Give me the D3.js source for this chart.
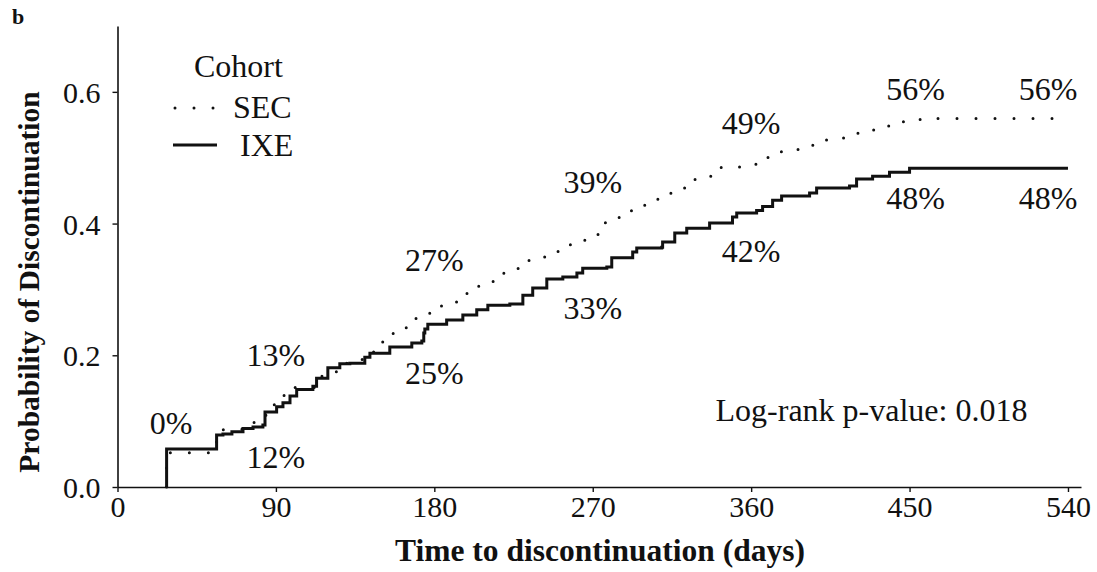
<!DOCTYPE html>
<html><head><meta charset="utf-8">
<script src="https://cdn.jsdelivr.net/npm/d3@7"></script>
<style>
html,body{margin:0;padding:0;background:#fff;}
text{font-family:"Liberation Serif","Times New Roman",serif;fill:#111;}
</style></head>
<body><svg id="c" width="1097" height="572"></svg>
<script>
// ---- data ----
const xTicks = [0, 90, 180, 270, 360, 450, 540];
const yTicks = [0.0, 0.2, 0.4, 0.6];
const yTickLabels = ["0.0", "0.2", "0.4", "0.6"];

const ixeDays = [27.9, 27.9, 56.3, 59.9, 65, 71.3, 77, 82.6, 83.8, 90.4, 94, 98, 101.8, 111, 113.1, 119.5, 126.3, 132,
  140.5, 143.4, 154.7, 167.2, 172.9, 174, 174.6, 176.3, 187, 196.2, 204.1, 210.4, 222.9, 230.3, 235.9, 243.9, 253, 261,
  264.3, 278, 280.8, 292.7, 295, 309.2, 309.7, 316.6, 323.4, 336.4, 349.4, 351.8, 363.1, 366.5, 372.2, 377.3, 393.2,
  397.2, 415.9, 419.9, 429, 438.6, 450, 540];
const ixeProb = [0, 0.0577, 0.079, 0.0805, 0.084, 0.089, 0.091, 0.094, 0.114, 0.122, 0.128, 0.138, 0.148, 0.153, 0.165, 0.181, 0.187, 0.188,
  0.197, 0.203, 0.2125, 0.2186, 0.2216, 0.234, 0.24, 0.247, 0.2535, 0.261, 0.269, 0.276, 0.278, 0.291, 0.302, 0.316, 0.319, 0.325,
  0.332, 0.334, 0.348, 0.357, 0.363, 0.364, 0.372, 0.3855, 0.393, 0.401, 0.41, 0.416, 0.42, 0.426, 0.4356, 0.4417, 0.4463,
  0.4539, 0.457, 0.4675, 0.472, 0.478, 0.484, 0.484];

const secDays = [27.9, 27.9, 56.3, 64, 72, 81.9, 84.3, 90.4, 97, 112, 120.7, 130, 139, 148, 154.3, 162.3, 168, 176.5, 183,
  191.6, 198.3, 204, 213.4, 219.5, 227.6, 233.8, 242.7, 250.3, 257.3, 265.5, 273, 277.2, 285, 292, 301.4, 307, 315.6,
  322.2, 330.8, 337.4, 347.8, 357.3, 364.8, 373.3, 381.9, 391.3, 398.9, 408.4, 417.8, 426.3, 435.8, 444.3, 453.8, 464.2, 540];
const secProb = [0, 0.052, 0.087, 0.0876, 0.098, 0.101, 0.125, 0.139, 0.151, 0.168, 0.175, 0.188, 0.205, 0.22, 0.233, 0.242, 0.256, 0.264, 0.275,
  0.281, 0.294, 0.305, 0.313, 0.325, 0.334, 0.346, 0.352, 0.362, 0.371, 0.3825, 0.389, 0.409, 0.418, 0.428, 0.433, 0.446, 0.453,
  0.467, 0.472, 0.485, 0.486, 0.49, 0.5005, 0.509, 0.5126, 0.519, 0.527, 0.53, 0.537, 0.542, 0.548, 0.5545, 0.558, 0.5597, 0.5597];

// annotation texts at the time points, with the probability level at which each is written
const labelDays = [90, 180, 270, 360, 450, 540];
const secLabels = ["13%", "27%", "39%", "49%", "56%", "56%"];
const secLabelAt = [0.201, 0.345, 0.463, 0.553, 0.604, 0.604];
const ixeLabels = ["12%", "25%", "33%", "42%", "48%", "48%"];
const ixeLabelAt = [0.0455, 0.173, 0.272, 0.358, 0.439, 0.439];
const startLabel = "0%";
const startLabelDay = 30.4;
const startLabelAt = 0.097;
const pValueText = "Log-rank p-value: 0.018";

const seriesNames = ["SEC", "IXE"];

// ---- drawing ----
const svg = d3.select("#c");
const x = d3.scaleLinear().domain([0, 547.4]).range([117.5, 1081]);
const y = d3.scaleLinear().domain([0, 0.7]).range([487, 26]);

const ink = "#111";

// axes
const xAxis = d3.axisBottom(x).tickValues(xTicks).tickSize(5).tickSizeOuter(0).tickPadding(4);
const gx = svg.append("g").attr("transform", `translate(0,${y(0)})`).call(xAxis);
gx.select(".domain").attr("stroke", ink).attr("stroke-width", 1.6);
gx.selectAll(".tick line").attr("stroke", ink).attr("stroke-width", 1.4);
gx.selectAll(".tick text").attr("font-size", 30).attr("font-family", "Liberation Serif").attr("fill", ink);

const yAxis = d3.axisLeft(y).tickValues(yTicks).tickFormat((d, i) => yTickLabels[i]).tickSize(5).tickSizeOuter(0).tickPadding(12);
const gy = svg.append("g").attr("transform", `translate(${x(0)},0)`).call(yAxis);
gy.select(".domain").attr("stroke", ink).attr("stroke-width", 1.6);
gy.selectAll(".tick line").attr("stroke", ink).attr("stroke-width", 1.4);
gy.selectAll(".tick text").attr("font-size", 30).attr("font-family", "Liberation Serif").attr("fill", ink).attr("dy", "0.35em");

// titles
svg.append("text").attr("x", 600).attr("y", 561).attr("text-anchor", "middle")
  .attr("font-size", 31.5).attr("font-weight", "bold").text("Time to discontinuation (days)");
svg.append("text").attr("transform", `translate(39,282) rotate(-90)`).attr("text-anchor", "middle")
  .attr("font-size", 29.5).attr("font-weight", "bold").text("Probability of Discontinuation");
svg.append("text").attr("x", 12).attr("y", 24).attr("font-size", 22).attr("font-weight", "bold").text("b");

// curves
const line = d3.line().x(d => x(d[0])).y(d => y(d[1])).curve(d3.curveStepAfter);
const ixe = ixeDays.map((d, i) => [d, ixeProb[i]]);
const sec = secDays.map((d, i) => [d, secProb[i]]);

svg.append("path").datum(sec).attr("d", line).attr("fill", "none").attr("stroke", ink)
  .attr("stroke-width", 3).attr("stroke-linecap", "round").attr("stroke-dasharray", "0 19");
svg.append("path").datum(ixe).attr("d", line).attr("fill", "none").attr("stroke", ink)
  .attr("stroke-width", 3).attr("stroke-linejoin", "miter");

// annotations
const fs = 32;
const dxFor = i => (i === labelDays.length - 1 ? -20 : (i === labelDays.length - 2 ? 6 : 0));
svg.append("text").attr("x", x(startLabelDay)).attr("y", y(startLabelAt)).attr("dy", "0.35em")
  .attr("text-anchor", "middle").attr("font-size", fs).text(startLabel);
labelDays.forEach((d, i) => {
  svg.append("text").attr("x", x(d) + dxFor(i)).attr("y", y(secLabelAt[i])).attr("dy", "0.35em")
    .attr("text-anchor", "middle").attr("font-size", fs).text(secLabels[i]);
  svg.append("text").attr("x", x(d) + dxFor(i)).attr("y", y(ixeLabelAt[i])).attr("dy", "0.35em")
    .attr("text-anchor", "middle").attr("font-size", fs).text(ixeLabels[i]);
});

// p-value
svg.append("text").attr("x", 871.5).attr("y", 421).attr("text-anchor", "middle").attr("font-size", fs).text(pValueText);

// legend
const lg = svg.append("g");
lg.append("text").attr("x", 194).attr("y", 77).attr("font-size", 32).text("Cohort");
lg.append("line").attr("x1", 175).attr("x2", 215).attr("y1", 108).attr("y2", 108).attr("stroke", ink)
  .attr("stroke-width", 3).attr("stroke-linecap", "round").attr("stroke-dasharray", "0 19");
lg.append("text").attr("x", 233).attr("y", 118).attr("font-size", 32).text(seriesNames[0]);
lg.append("line").attr("x1", 173).attr("x2", 217).attr("y1", 145).attr("y2", 145).attr("stroke", ink).attr("stroke-width", 3);
lg.append("text").attr("x", 240).attr("y", 156).attr("font-size", 32).text(seriesNames[1]);
</script></body></html>
